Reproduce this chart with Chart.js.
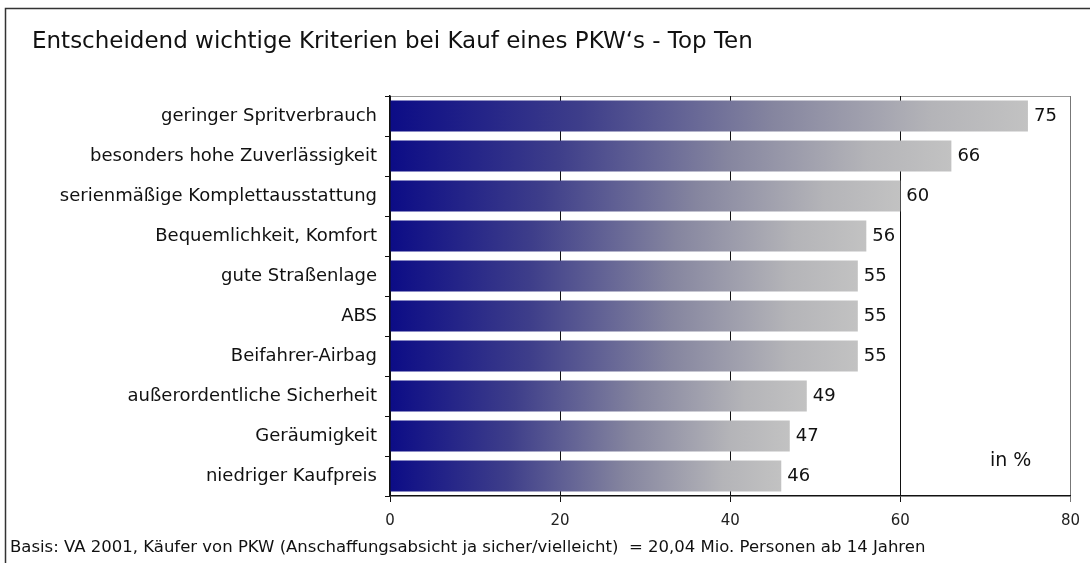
<!DOCTYPE html>
<html>
<head>
<meta charset="utf-8">
<script src="https://cdn.jsdelivr.net/npm/chart.js@4/dist/chart.umd.min.js"></script>
<style>
  html, body { margin: 0; padding: 0; background: #fff; }
  #wrap { width: 1090px; height: 563px; position: relative; }
</style>
</head>
<body>
<div id="wrap"><canvas id="c" width="1090" height="563"></canvas></div>
<script>
const CATEGORIES = [
  "geringer Spritverbrauch",
  "besonders hohe Zuverlässigkeit",
  "serienmäßige Komplettausstattung",
  "Bequemlichkeit, Komfort",
  "gute Straßenlage",
  "ABS",
  "Beifahrer-Airbag",
  "außerordentliche Sicherheit",
  "Geräumigkeit",
  "niedriger Kaufpreis",
];
const VALUES = [75, 66, 60, 56, 55, 55, 55, 49, 47, 46];
const X_TICKS = [0, 20, 40, 60, 80];

const TITLE = "Entscheidend wichtige Kriterien bei Kauf eines PKW‘s - Top Ten";
const FOOTER = "Basis: VA 2001, Käufer von PKW (Anschaffungsabsicht ja sicher/vielleicht)  = 20,04 Mio. Personen ab 14 Jahren";
const UNIT = "in %";

const FONT = "'DejaVu Sans', Verdana, sans-serif";

// Verlauf je Balken: dunkles Blau links -> hellgrau am Balkenende
function barGradient(ctx) {
  const chart = ctx.chart;
  if (!chart.chartArea || ctx.type !== "data") return "#5a5a9a";
  const x = chart.scales.x;
  const x0 = x.getPixelForValue(0);
  const x1 = x.getPixelForValue(ctx.raw);
  const g = chart.ctx.createLinearGradient(x0, 0, x1, 0);
  g.addColorStop(0, "#0c0c86");
  g.addColorStop(0.3, "#3e3e8a");
  g.addColorStop(0.6, "#85859f");
  g.addColorStop(0.85, "#b4b4b8");
  g.addColorStop(1, "#c2c2c2");
  return g;
}

// Rahmen, Titel, Fußnote, Werte an den Balken
const decor = {
  id: "decor",
  beforeDraw(chart) {
    const c = chart.ctx;
    c.save();
    c.fillStyle = "#fff";
    c.fillRect(0, 0, chart.width, chart.height);
    c.strokeStyle = "#333";
    c.lineWidth = 1.5;
    c.beginPath();
    c.moveTo(5.5, chart.height + 5);
    c.lineTo(5.5, 8.5);
    c.lineTo(chart.width + 5, 8.5);
    c.stroke();
    const a = chart.chartArea;
    c.strokeStyle = "#999";
    c.lineWidth = 1;
    c.beginPath();
    c.moveTo(a.left, a.top + 0.5);
    c.lineTo(a.right + 0.5, a.top + 0.5);
    c.stroke();
    c.restore();
  },
  afterDraw(chart) {
    const c = chart.ctx;
    c.save();
    c.fillStyle = "#111";
    c.textBaseline = "middle";
    c.textAlign = "left";
    c.font = "23px " + FONT;
    c.fillText(TITLE, 32, 42);
    c.font = "16.5px " + FONT;
    c.fillText(FOOTER, 10, 548);
    c.font = "19px " + FONT;
    c.fillText(UNIT, 990, 461);
    c.font = "18px " + FONT;
    const meta = chart.getDatasetMeta(0);
    meta.data.forEach((bar, i) => {
      c.fillText(String(VALUES[i]), bar.x + 6, bar.y);
    });
    c.restore();
  },
};

new Chart(document.getElementById("c"), {
  type: "bar",
  data: {
    labels: CATEGORIES,
    datasets: [{
      data: VALUES,
      backgroundColor: barGradient,
      borderWidth: 0,
      barPercentage: 0.78,
      categoryPercentage: 1,
    }],
  },
  options: {
    indexAxis: "y",
    responsive: false,
    animation: false,
    events: [],
    layout: { padding: { top: 96, right: 16, left: 0, bottom: 0 } },
    plugins: { legend: { display: false }, tooltip: { enabled: false }, title: { display: false } },
    scales: {
      x: {
        min: 0, max: 80,
        afterBuildTicks: (s) => { s.ticks = X_TICKS.map((v) => ({ value: v })); },
        afterFit: (s) => { s.height = 67; },
        grid: {
          drawOnChartArea: true,
          drawTicks: true,
          tickLength: 6,
          color: (ctx) => (ctx.tick && ctx.tick.value === 80 ? "#777" : "#111"),
          lineWidth: 1,
        },
        border: { display: true, color: "#111", width: 1.5 },
        ticks: { color: "#222", padding: 10, font: { family: FONT, size: 15 } },
      },
      y: {
        afterFit: (s) => { s.width = 390; },
        grid: { offset: true, drawOnChartArea: false, drawTicks: true, tickLength: 5, color: "#111" },
        border: { display: true, color: "#111", width: 1.5 },
        ticks: { color: "#111", padding: 8, font: { family: FONT, size: 18 } },
      },
    },
  },
  plugins: [decor],
});
</script>
</body>
</html>
